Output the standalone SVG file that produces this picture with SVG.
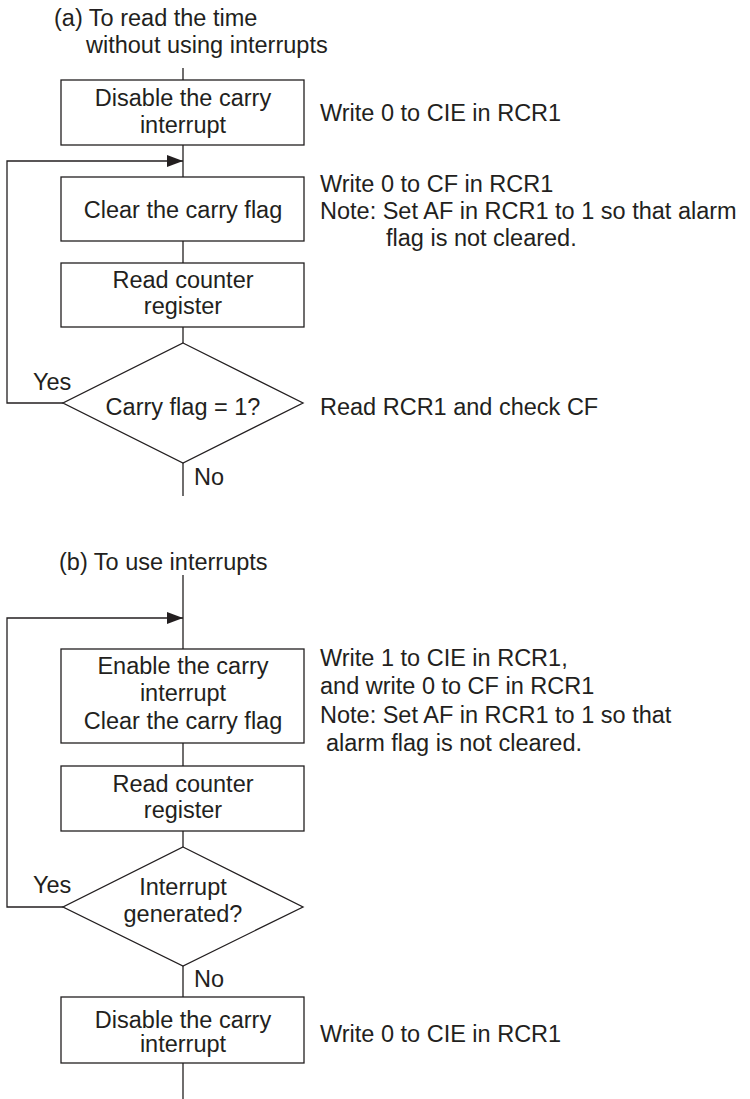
<svg xmlns="http://www.w3.org/2000/svg" width="750" height="1099" viewBox="0 0 750 1099">
<style>
text{font-family:"Liberation Sans",Arial,sans-serif;font-size:23.5px;fill:#231f20}
.c{text-anchor:middle}
.box{fill:#fff;stroke:#231f20;stroke-width:1.3}
.ln{fill:none;stroke:#231f20;stroke-width:1.3}
</style>
<defs>
<marker id="arr" markerUnits="userSpaceOnUse" markerWidth="16" markerHeight="14" refX="16" refY="7" orient="auto">
<polygon points="0,1 16,7 0,13" fill="#231f20"/>
</marker>
</defs>
<g id="connectors">
<line class="ln" x1="183" y1="68" x2="183" y2="80"/>
<line class="ln" x1="183" y1="145" x2="183" y2="177"/>
<line class="ln" x1="183" y1="241" x2="183" y2="263"/>
<line class="ln" x1="183" y1="327" x2="183" y2="343"/>
<line class="ln" x1="183" y1="463" x2="183" y2="496"/>
<polyline class="ln" points="63,403 7,403 7,161 183,161" marker-end="url(#arr)"/>
<line class="ln" x1="183" y1="575" x2="183" y2="649"/>
<line class="ln" x1="183" y1="743" x2="183" y2="766"/>
<line class="ln" x1="183" y1="831" x2="183" y2="847"/>
<line class="ln" x1="183" y1="966" x2="183" y2="997"/>
<line class="ln" x1="183" y1="1063" x2="183" y2="1099"/>
<polyline class="ln" points="63,907 7,907 7,618 183,618" marker-end="url(#arr)"/>
<text x="33" y="390">Yes</text>
<text x="194" y="485">No</text>
<text x="33" y="893">Yes</text>
<text x="194" y="987">No</text>
</g>
<g id="title-a">
<text x="54" y="26">(a) To read the time</text>
<text x="86" y="53">without using interrupts</text>
</g>
<g id="a-disable">
<rect class="box" x="61" y="80" width="243" height="65"/>
<text class="c" x="183" y="106">Disable the carry</text>
<text class="c" x="183" y="133">interrupt</text>
<text x="320" y="121">Write 0 to CIE in RCR1</text>
</g>
<g id="a-clear">
<rect class="box" x="61" y="177" width="243" height="64"/>
<text class="c" x="183" y="218">Clear the carry flag</text>
<text x="320" y="192">Write 0 to CF in RCR1</text>
<text x="320" y="219">Note: Set AF in RCR1 to 1 so that alarm</text>
<text x="386" y="246">flag is not cleared.</text>
</g>
<g id="a-read">
<rect class="box" x="61" y="263" width="243" height="64"/>
<text class="c" x="183" y="288">Read counter</text>
<text class="c" x="183" y="314">register</text>
</g>
<g id="a-decision">
<polygon class="box" points="183,343 303,403 183,463 63,403"/>
<text class="c" x="183" y="415">Carry flag = 1?</text>
<text x="320" y="415">Read RCR1 and check CF</text>
</g>
<g id="title-b">
<text x="59" y="570">(b) To use interrupts</text>
</g>
<g id="b-enable">
<rect class="box" x="61" y="649" width="243" height="94"/>
<text class="c" x="183" y="674">Enable the carry</text>
<text class="c" x="183" y="701">interrupt</text>
<text class="c" x="183" y="729">Clear the carry flag</text>
<text x="320" y="666">Write 1 to CIE in RCR1,</text>
<text x="320" y="694">and write 0 to CF in RCR1</text>
<text x="320" y="723">Note: Set AF in RCR1 to 1 so that</text>
<text x="326" y="751">alarm flag is not cleared.</text>
</g>
<g id="b-read">
<rect class="box" x="61" y="766" width="243" height="65"/>
<text class="c" x="183" y="792">Read counter</text>
<text class="c" x="183" y="818">register</text>
</g>
<g id="b-decision">
<polygon class="box" points="183,847 303,907 183,966 63,907"/>
<text class="c" x="183" y="895">Interrupt</text>
<text class="c" x="183" y="922">generated?</text>
</g>
<g id="b-disable">
<rect class="box" x="61" y="997" width="243" height="66"/>
<text class="c" x="183" y="1028">Disable the carry</text>
<text class="c" x="183" y="1052">interrupt</text>
<text x="320" y="1042">Write 0 to CIE in RCR1</text>
</g>
</svg>
